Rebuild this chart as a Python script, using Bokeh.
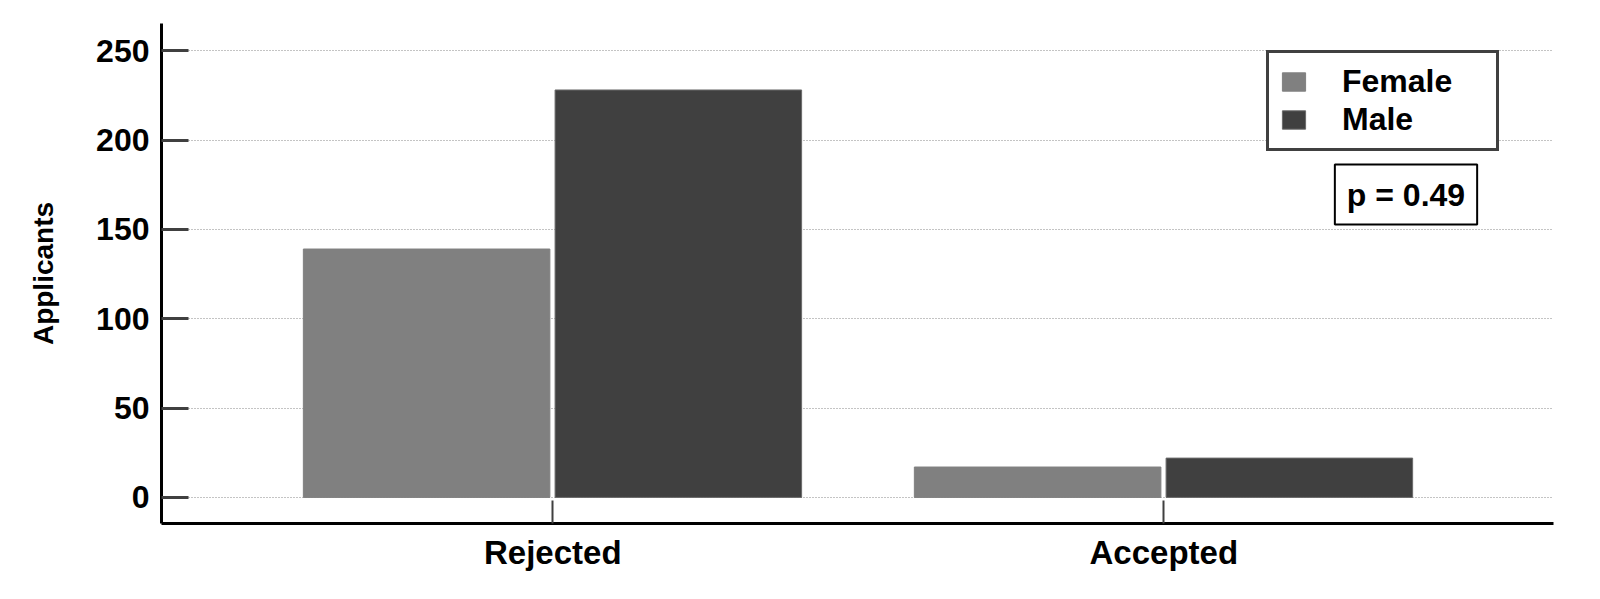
from bokeh.plotting import figure
from bokeh.models import Range1d, FixedTicker, Legend, LegendItem, Label, ColumnDataSource
from bokeh.transform import dodge
from bokeh.embed import file_html
from bokeh.resources import INLINE

categories = ["Rejected", "Accepted"]
series_names = ["Female", "Male"]
female = [139, 17]
male = [228, 22]
colors = ["#808080", "#404040"]
y_ticks = [0, 50, 100, 150, 200, 250]
p_text = "p = 0.49"

FONT = "Liberation Sans"

source = ColumnDataSource(dict(x=list(range(len(categories))), female=female, male=male))

p = figure(width=1584, height=583, output_backend="svg", toolbar_location=None,
           x_range=Range1d(-0.6404, 1.6378), y_range=Range1d(-14.6, 265.2),
           min_border_left=161, min_border_right=31, min_border_top=23, min_border_bottom=60)
p.outline_line_color = None
p.background_fill_color = "white"

r_f = p.vbar(x=dodge("x", -0.2065, range=p.x_range), top="female", bottom=0, width=0.4035,
             source=source, fill_color=colors[0], line_color=colors[0], line_width=1)
r_m = p.vbar(x=dodge("x", 0.2055, range=p.x_range), top="male", bottom=0, width=0.4035,
             source=source, fill_color=colors[1], line_color="#6a6a6a", line_width=1)

# grid
p.xgrid.visible = False
p.ygrid.ticker = FixedTicker(ticks=y_ticks)
p.ygrid.grid_line_color = "#888888"
p.ygrid.grid_line_dash = "1 2"
p.ygrid.grid_line_width = 1

# y axis
ya = p.yaxis[0]
ya.ticker = FixedTicker(ticks=y_ticks)
ya.major_tick_in = 27
ya.major_tick_out = 0
ya.major_tick_line_width = 3
ya.major_tick_line_color = "#404040"
ya.minor_tick_line_color = None
ya.axis_line_width = 3
ya.axis_line_color = "black"
ya.major_label_text_font = FONT
ya.major_label_text_font_size = "32px"
ya.major_label_text_font_style = "bold"
ya.major_label_text_color = "black"
ya.major_label_standoff = 12
ya.axis_label = "Applicants"
ya.axis_label_text_font = FONT
ya.axis_label_text_font_size = "28px"
ya.axis_label_text_font_style = "bold"
ya.axis_label_text_color = "black"
ya.axis_label_standoff = 34

# x axis
xa = p.xaxis[0]
xa.ticker = FixedTicker(ticks=list(range(len(categories))))
xa.major_label_overrides = {i: c for i, c in enumerate(categories)}
xa.major_tick_in = 23
xa.major_tick_out = 0
xa.major_tick_line_width = 2
xa.major_tick_line_color = "#404040"
xa.minor_tick_line_color = None
xa.axis_line_width = 3
xa.axis_line_color = "black"
xa.major_label_text_font = FONT
xa.major_label_text_font_size = "33px"
xa.major_label_text_font_style = "bold"
xa.major_label_text_color = "black"
xa.major_label_standoff = 10

legend = Legend(items=[LegendItem(label=series_names[0], renderers=[r_f]),
                       LegendItem(label=series_names[1], renderers=[r_m])],
                location=(1105, 372))
legend.border_line_color = "#404040"
legend.border_line_alpha = 1
legend.border_line_width = 3
legend.background_fill_color = "white"
legend.background_fill_alpha = 1
legend.padding = 10
legend.margin = 0
legend.spacing = 1
legend.glyph_width = 29
legend.glyph_height = 23
legend.label_standoff = 34
legend.label_width = 144
legend.label_text_font = FONT
legend.label_text_font_size = "32px"
legend.label_text_font_style = "bold"
legend.label_text_color = "black"
p.add_layout(legend)

lab = Label(x=1.3964, y=169.5, text=p_text, text_align="center", text_baseline="middle",
            text_font=FONT, text_font_size="32px", text_font_style="bold", text_color="black",
            border_line_color="black", border_line_width=2, background_fill_color="white",
            padding=12)
p.add_layout(lab)

open("out.html", "w").write(file_html(p, INLINE))
